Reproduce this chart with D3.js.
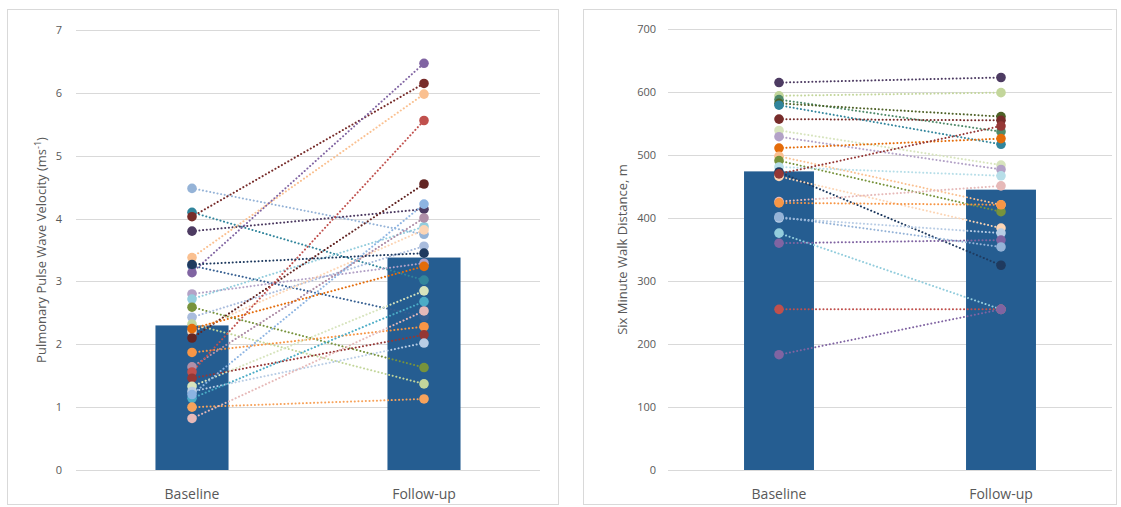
<!DOCTYPE html>
<html><head><meta charset="utf-8">
<script src="https://cdn.jsdelivr.net/npm/d3@7"></script>
<style>body{margin:0;background:#fff}svg{display:block}text{font-family:"Open Sans","Liberation Sans",sans-serif;fill:#595959}</style>
</head><body><svg id="c" width="1121" height="507"></svg>
<script>
const categories = ["Baseline", "Follow-up"];
// Left panel: pulmonary pulse wave velocity (m/s)
const pwvMeans = [2.30, 3.38];
const pwvBaseline = [4.48,4.10,4.03,3.80,3.38,3.25,3.14,2.80,2.72,2.59,2.43,2.32,2.20,2.10,1.87,1.64,1.56,1.46,1.33,1.25,1.14,1.00,0.82,3.27,1.20,2.25];
const pwvFollowup = [3.75,3.02,6.15,4.15,5.98,2.44,6.47,3.29,3.87,1.63,3.56,1.37,3.82,4.55,2.28,4.01,5.56,2.15,2.85,2.02,2.68,1.13,2.53,3.45,4.23,3.24];
const pwvTicks = [0,1,2,3,4,5,6,7];
// Right panel: six minute walk distance (m)
const smwMeans = [474, 445];
const smwBaseline = [615,594,588,582,579,557,539,529,511,498,491,481,473,466,426,424,400,376,360,255,183,470,402];
const smwFollowup = [623,599,537,561,517,555,484,477,526,421,410,467,325,384,451,421,376,255,365,255,255,546,354];
const smwTicks = [0,100,200,300,400,500,600,700];

// styles
const pwvColors = ["#95B3D7","#31859C","#772C2A","#4D3B62","#FAC090","#376092","#8064A2","#B3A2C7","#93CDDD","#77933C","#A9BCDD","#C3D69B","#FCD5B5","#632523","#F79646","#B08FA8","#C0504D","#953735","#D7E4BD","#B9CDE5","#4BACC6","#F7A35C","#E6B9B8","#1F3A5F","#8DB4E2","#E46C0A"];
const smwColors = ["#4D3B62","#C3D69B","#4F8A6A","#4F6228","#31859C","#772C2A","#D7E4BD","#B3A2C7","#E46C0A","#FAC090","#77933C","#B7DEE8","#1F3A5F","#FCD5B5","#E6B9B8","#F79646","#B9CDE5","#93CDDD","#8064A2","#C0504D","#8064A2","#953735","#95B3D7"];

const svg = d3.select("#c");
const barColor = "#255D91";

function panel(o){
  const g = svg.append("g");
  g.append("rect").attr("x",o.box[0]+0.5).attr("y",o.box[1]+0.5).attr("width",o.box[2]).attr("height",o.box[3])
    .attr("fill","none").attr("stroke","#d9d9d9");
  const y = d3.scaleLinear().domain(o.domain).range([o.bottom,o.top]);
  const x = d3.scalePoint().domain(categories).range([o.left,o.right]).padding(0.5);
  const bw = x.step()*0.315;
  // grid
  g.selectAll(".gl").data(o.ticks).join("line").attr("x1",o.left).attr("x2",o.right)
    .attr("y1",d=>Math.round(y(d))+0.5).attr("y2",d=>Math.round(y(d))+0.5).attr("stroke","#d9d9d9").attr("stroke-width",1);
  const ax = d3.axisLeft(y).tickValues(o.ticks).tickFormat(d3.format("d")).tickSize(0).tickPadding(0);
  const ag = g.append("g").attr("transform",`translate(${o.left-o.labelGap},0)`).call(ax);
  ag.select(".domain").remove();
  ag.selectAll("text").style("font-size","11px").attr("fill","#595959");
  // bars
  g.selectAll(".bar").data(o.means).join("rect").attr("x",(d,i)=>x(categories[i])-bw/2).attr("width",bw)
    .attr("y",d=>y(d)).attr("height",d=>y(0)-y(d)).attr("fill",barColor);
  // lines
  o.base.forEach((b,i)=>{
    g.append("line").attr("x1",x(categories[0])).attr("y1",y(b)).attr("x2",x(categories[1])).attr("y2",y(o.fu[i]))
      .attr("stroke",o.colors[i]).attr("stroke-width",2).attr("stroke-dasharray","0.1,3.6").attr("stroke-linecap","round");
  });
  o.base.forEach((b,i)=>{
    [b,o.fu[i]].forEach((v,k)=>{
      g.append("circle").attr("cx",x(categories[k])).attr("cy",y(v)).attr("r",4.8).attr("fill",o.colors[i]);
    });
  });
  // category labels
  g.selectAll(".cl").data(categories).join("text").attr("x",d=>x(d)).attr("y",o.catY).attr("text-anchor","middle")
    .style("font-size","14px").text(d=>d);
  // title
  const t = g.append("text").attr("transform",`translate(${o.titleX},${(o.top+o.bottom)/2}) rotate(-90)`)
    .attr("text-anchor","middle").style("font-size","13px");
  o.title(t);
}

panel({box:[7,9,551,495], left:76, right:540, top:30, bottom:470, domain:[0,7], ticks:pwvTicks, labelGap:14,
  means:pwvMeans, base:pwvBaseline, fu:pwvFollowup, colors:pwvColors, catY:499, titleX:46,
  title:t=>{t.append("tspan").text("Pulmonary Pulse Wave Velocity (ms");t.append("tspan").attr("dy",-5).style("font-size","9px").text("-1");t.append("tspan").attr("dy",5).text(")");}});
panel({box:[583,9,533,495], left:668, right:1112, top:29, bottom:470, domain:[0,700], ticks:smwTicks, labelGap:12,
  means:smwMeans, base:smwBaseline, fu:smwFollowup, colors:smwColors, catY:499, titleX:627,
  title:t=>t.text("Six Minute Walk Distance, m")});
</script></body></html>
